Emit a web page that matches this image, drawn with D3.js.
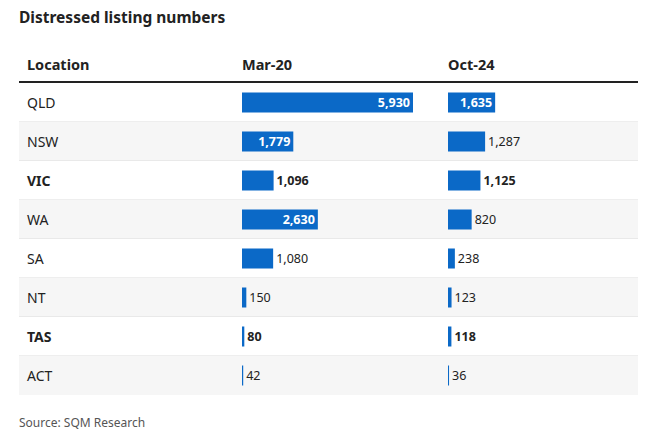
<!DOCTYPE html>
<html lang="en">
<head>
<meta charset="utf-8" />
<title>Distressed listing numbers</title>
<script src="https://d3js.org/d3.v7.min.js"></script>
<style>
  body { margin: 0; background: #fff; }
  svg text { font-family: "Noto Sans", "DejaVu Sans", sans-serif; fill: #222; }
</style>
</head>
<body>
<div id="chart"></div>
<script>
// data
var locations = ["QLD", "NSW", "VIC", "WA", "SA", "NT", "TAS", "ACT"];
var mar20 = [5930, 1779, 1096, 2630, 1080, 150, 80, 42];
var oct24 = [1635, 1287, 1125, 820, 238, 123, 118, 36];
var boldRows = ["VIC", "TAS"];
var columns = ["Location", "Mar-20", "Oct-24"];

var width = 658, height = 436;
var left = 19, right = 638;
var tableTop = 82, rowH = 39;

var svg = d3.select("#chart").append("svg")
    .attr("width", width)
    .attr("height", height);

// title
svg.append("text")
    .attr("x", 19).attr("y", 23)
    .attr("font-size", 15.5).attr("font-weight", 700)
    .text("Distressed listing numbers");

// column headers
var colX = [27, 242, 448];
svg.selectAll("text.head")
    .data(columns)
    .enter().append("text")
    .attr("class", "head")
    .attr("x", function(d, i) { return colX[i]; })
    .attr("y", 70)
    .attr("font-size", 14.5).attr("font-weight", 700)
    .text(function(d) { return d; });

svg.append("line")
    .attr("x1", left).attr("x2", right)
    .attr("y1", tableTop).attr("y2", tableTop)
    .attr("stroke", "#222").attr("stroke-width", 2);

var y = d3.scaleBand()
    .domain(locations)
    .range([tableTop + 1, tableTop + 1 + rowH * locations.length]);

var x = d3.scaleLinear()
    .domain([0, 5930])
    .range([0, 171]);

var rows = svg.selectAll("g.row")
    .data(locations)
    .enter().append("g")
    .attr("class", "row")
    .attr("transform", function(d) { return "translate(0," + y(d) + ")"; });

rows.append("rect")
    .attr("x", left).attr("width", right - left)
    .attr("height", y.bandwidth())
    .attr("fill", function(d, i) { return i % 2 ? "#f6f6f6" : "#fff"; });

rows.append("line")
    .attr("x1", left).attr("x2", right)
    .attr("y1", y.bandwidth()).attr("y2", y.bandwidth())
    .attr("stroke", function(d, i) { return i < locations.length - 1 ? "#dcdcdc" : "none"; });

rows.append("text")
    .attr("x", colX[0])
    .attr("y", y.bandwidth() / 2 + 5)
    .attr("font-size", 14)
    .attr("font-weight", function(d) { return boldRows.indexOf(d) >= 0 ? 700 : 400; })
    .text(function(d) { return d; });

var fmt = d3.format(",");
var barH = 20;

function drawSeries(values, x0) {
  rows.each(function(loc, i) {
    var g = d3.select(this);
    var v = values[i];
    var w = x(v);
    var bold = boldRows.indexOf(loc) >= 0;
    g.append("rect")
      .attr("x", x0).attr("y", (y.bandwidth() - barH) / 2)
      .attr("width", Math.max(w, 1)).attr("height", barH)
      .attr("fill", "#0b69c7");
    var inside = w > 45;
    g.append("text")
      .attr("x", inside ? x0 + w - 3 : x0 + w + 3)
      .attr("y", y.bandwidth() / 2 + 4.5)
      .attr("text-anchor", inside ? "end" : "start")
      .attr("font-size", 12.5)
      .attr("font-weight", inside || bold ? 700 : 400)
      .style("fill", inside ? "#fff" : "#222")
      .text(fmt(v));
  });
}

drawSeries(mar20, colX[1]);
drawSeries(oct24, colX[2]);

svg.append("text")
    .attr("x", 19).attr("y", 427)
    .attr("font-size", 12)
    .style("fill", "#555")
    .text("Source: SQM Research");
</script>
</body>
</html>
